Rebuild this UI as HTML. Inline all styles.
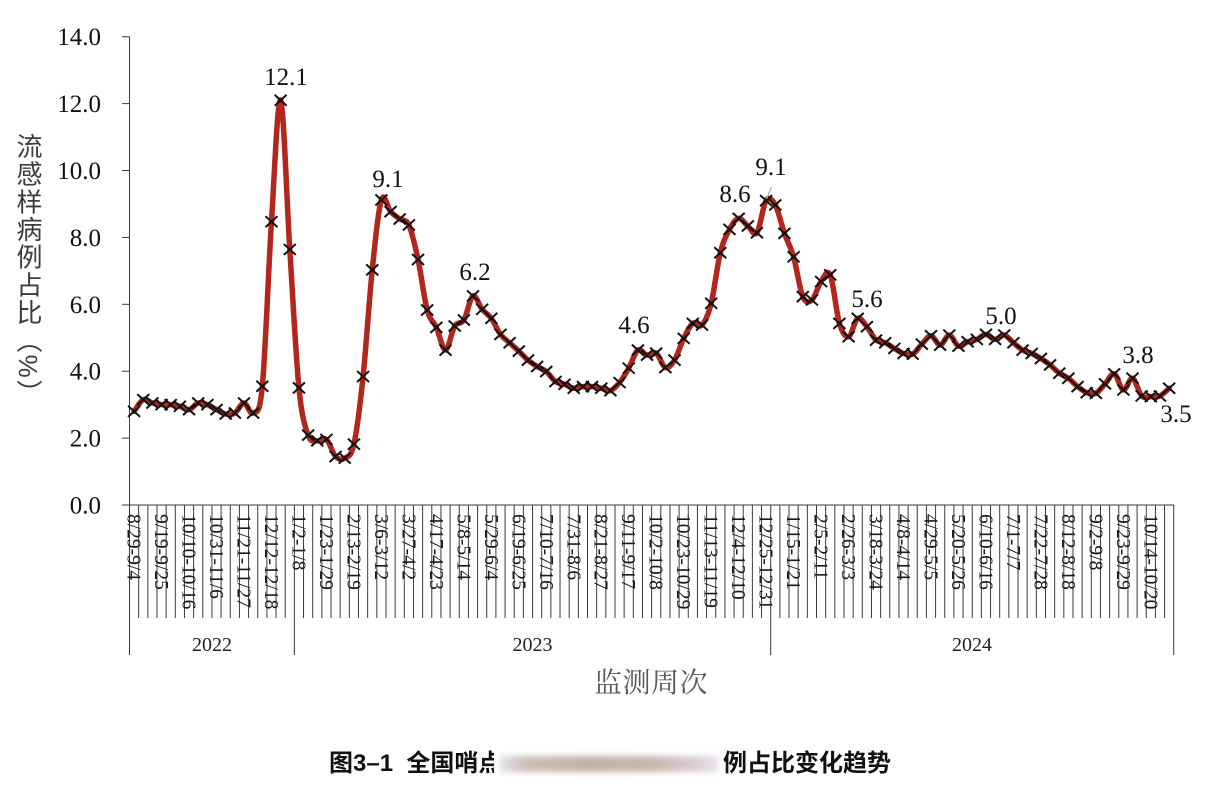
<!DOCTYPE html>
<html><head><meta charset="utf-8">
<style>
html,body{margin:0;padding:0;background:#fff;}
body{width:1227px;height:800px;position:relative;overflow:hidden;}
svg{position:absolute;left:0;top:0;}
.yt{position:absolute;left:14px;top:133px;writing-mode:vertical-rl;font-family:"Liberation Sans","Noto Sans CJK SC",sans-serif;font-size:26px;line-height:28px;color:#3c3c3c;letter-spacing:1.7px;}
.xt{position:absolute;left:594px;top:668px;font-family:"Liberation Serif","Noto Serif CJK SC",serif;font-size:28px;line-height:32px;color:#585858;letter-spacing:0.5px;}
.cap{position:absolute;top:749px;font-family:"Liberation Sans","Noto Sans CJK SC",sans-serif;font-weight:bold;font-size:24px;line-height:30px;color:#111;white-space:nowrap;}
.blurbox{position:absolute;left:494px;top:746px;width:230px;height:36px;background:#fff;overflow:hidden;}
.blurin{position:absolute;left:6px;top:10px;width:218px;height:16px;background:linear-gradient(90deg,#e6e2ee 0%,#cbbfb6 12%,#c2b3a6 40%,#c6b8ad 70%,#d9cdd6 90%,#e9e4ee 100%);filter:blur(3px);}
</style></head>
<body>
<svg id="chart" width="1227" height="800" viewBox="0 0 1227 800" xmlns="http://www.w3.org/2000/svg">
  <g stroke="#3a3a3a" stroke-width="1" fill="none" id="axes">
    <line x1="129.5" y1="36.7" x2="129.5" y2="655"/>
    <line x1="129.5" y1="505" x2="1174" y2="505"/>
    <line x1="122" y1="505" x2="129.5" y2="505"/>
    <line x1="122" y1="438.1" x2="129.5" y2="438.1"/>
    <line x1="122" y1="371.2" x2="129.5" y2="371.2"/>
    <line x1="122" y1="304.3" x2="129.5" y2="304.3"/>
    <line x1="122" y1="237.4" x2="129.5" y2="237.4"/>
    <line x1="122" y1="170.5" x2="129.5" y2="170.5"/>
    <line x1="122" y1="103.6" x2="129.5" y2="103.6"/>
    <line x1="122" y1="36.7" x2="129.5" y2="36.7"/>
  </g>
  <g font-family="Liberation Serif, serif" font-size="25" fill="#111" text-anchor="end">
    <text x="101" y="513.5">0.0</text>
    <text x="101" y="446.6">2.0</text>
    <text x="101" y="379.7">4.0</text>
    <text x="101" y="312.8">6.0</text>
    <text x="101" y="245.9">8.0</text>
    <text x="101" y="179">10.0</text>
    <text x="101" y="112.1">12.0</text>
    <text x="101" y="45.2">14.0</text>
  </g>
  <g font-family="Liberation Serif, serif" font-size="19.5" fill="#1a1a1a">
    <text transform="translate(134.1,514) rotate(90)" y="6.5">8/29-9/4</text>
    <text transform="translate(161.6,514) rotate(90)" y="6.5">9/19-9/25</text>
    <text transform="translate(189.0,514) rotate(90)" y="6.5">10/10-10/16</text>
    <text transform="translate(216.5,514) rotate(90)" y="6.5">10/31-11/6</text>
    <text transform="translate(244.0,514) rotate(90)" y="6.5">11/21-11/27</text>
    <text transform="translate(271.5,514) rotate(90)" y="6.5">12/12-12/18</text>
    <text transform="translate(299.0,514) rotate(90)" y="6.5">1/2-1/8</text>
    <text transform="translate(326.4,514) rotate(90)" y="6.5">1/23-1/29</text>
    <text transform="translate(353.9,514) rotate(90)" y="6.5">2/13-2/19</text>
    <text transform="translate(381.4,514) rotate(90)" y="6.5">3/6-3/12</text>
    <text transform="translate(408.9,514) rotate(90)" y="6.5">3/27-4/2</text>
    <text transform="translate(436.4,514) rotate(90)" y="6.5">4/17-4/23</text>
    <text transform="translate(463.8,514) rotate(90)" y="6.5">5/8-5/14</text>
    <text transform="translate(491.3,514) rotate(90)" y="6.5">5/29-6/4</text>
    <text transform="translate(518.8,514) rotate(90)" y="6.5">6/19-6/25</text>
    <text transform="translate(546.3,514) rotate(90)" y="6.5">7/10-7/16</text>
    <text transform="translate(573.8,514) rotate(90)" y="6.5">7/31-8/6</text>
    <text transform="translate(601.2,514) rotate(90)" y="6.5">8/21-8/27</text>
    <text transform="translate(628.7,514) rotate(90)" y="6.5">9/11-9/17</text>
    <text transform="translate(656.2,514) rotate(90)" y="6.5">10/2-10/8</text>
    <text transform="translate(683.7,514) rotate(90)" y="6.5">10/23-10/29</text>
    <text transform="translate(711.2,514) rotate(90)" y="6.5">11/13-11/19</text>
    <text transform="translate(738.6,514) rotate(90)" y="6.5">12/4-12/10</text>
    <text transform="translate(766.1,514) rotate(90)" y="6.5">12/25-12/31</text>
    <text transform="translate(793.6,514) rotate(90)" y="6.5">1/15-1/21</text>
    <text transform="translate(821.1,514) rotate(90)" y="6.5">2/5-2/11</text>
    <text transform="translate(848.6,514) rotate(90)" y="6.5">2/26-3/3</text>
    <text transform="translate(876.0,514) rotate(90)" y="6.5">3/18-3/24</text>
    <text transform="translate(903.5,514) rotate(90)" y="6.5">4/8-4/14</text>
    <text transform="translate(931.0,514) rotate(90)" y="6.5">4/29-5/5</text>
    <text transform="translate(958.5,514) rotate(90)" y="6.5">5/20-5/26</text>
    <text transform="translate(986.0,514) rotate(90)" y="6.5">6/10-6/16</text>
    <text transform="translate(1013.4,514) rotate(90)" y="6.5">7/1-7/7</text>
    <text transform="translate(1040.9,514) rotate(90)" y="6.5">7/22-7/28</text>
    <text transform="translate(1068.4,514) rotate(90)" y="6.5">8/12-8/18</text>
    <text transform="translate(1095.9,514) rotate(90)" y="6.5">9/2-9/8</text>
    <text transform="translate(1123.4,514) rotate(90)" y="6.5">9/23-9/29</text>
    <text transform="translate(1150.8,514) rotate(90)" y="6.5">10/14-10/20</text>
  </g>
  <g font-family="Liberation Serif, serif" font-size="20" fill="#222" text-anchor="middle">
    <text x="212" y="651">2022</text>
    <text x="532.5" y="651">2023</text>
    <text x="972" y="651">2024</text>
  </g>
  <g id="series"></g>
  <line x1="771.5" y1="187" x2="766.5" y2="199" stroke="#a8a8a8" stroke-width="1.2"/>
  <g font-family="Liberation Serif, serif" font-size="25" fill="#111" text-anchor="middle">
    <text x="286" y="85">12.1</text>
    <text x="388" y="187">9.1</text>
    <text x="475" y="280">6.2</text>
    <text x="634" y="333">4.6</text>
    <text x="735" y="202">8.6</text>
    <text x="771" y="175">9.1</text>
    <text x="867" y="307">5.6</text>
    <text x="1001" y="324">5.0</text>
    <text x="1138" y="363">3.8</text>
    <text x="1176" y="422">3.5</text>
  </g>
</svg>
<div class="yt">流感样病例占比（%）</div>
<div class="xt">监测周次</div>
<div class="cap" style="left:329px;">图3–1&nbsp;&nbsp;全国哨点</div>
<div class="blurbox"><div class="blurin"></div></div>
<div class="cap" style="left:723px;">例占比变化趋势</div>
<script>
(function(){
  var NS="http://www.w3.org/2000/svg";
  var svg=document.getElementById("chart");
  var axes=document.getElementById("axes");
  var x0=129.5, w=9.16, N=114;
  // category tick lines
  for(var k=1;k<=N;k++){
    var xx=x0+w*k;
    var big=(k==18||k==70||k==N);
    var l=document.createElementNS(NS,"line");
    l.setAttribute("x1",xx);l.setAttribute("x2",xx);
    l.setAttribute("y1",505);l.setAttribute("y2",big?655:618);
    axes.appendChild(l);
  }
  var d=[2.8,3.15,3.05,3.0,3.0,2.95,2.85,3.05,3.0,2.85,2.72,2.75,3.05,2.75,3.55,8.47,12.1,7.64,3.5,2.09,
  1.92,1.96,1.45,1.4,1.82,3.84,7.03,9.12,8.77,8.55,8.37,7.34,5.83,5.31,4.63,5.35,5.53,6.25,5.85,5.58,
  5.10,4.85,4.60,4.33,4.14,3.99,3.69,3.61,3.49,3.54,3.54,3.49,3.42,3.66,4.09,4.63,4.48,4.54,4.11,4.33,
  4.98,5.43,5.38,6.03,7.54,8.24,8.57,8.34,8.14,9.10,8.97,8.12,7.42,6.23,6.13,6.68,6.88,5.43,5.03,5.58,
  5.33,4.93,4.85,4.68,4.53,4.51,4.81,5.06,4.78,5.08,4.75,4.88,4.95,5.10,4.95,5.08,4.85,4.63,4.53,4.38,
  4.19,3.94,3.79,3.54,3.36,3.34,3.62,3.92,3.44,3.79,3.26,3.24,3.26,3.49];
  var P=[];
  for(var i=0;i<d.length;i++){P.push([x0+w*(i+0.5),505-33.45*d[i]]);}
  var s="M"+P[0][0].toFixed(2)+","+P[0][1].toFixed(2);
  for(var i=0;i<P.length-1;i++){
    var p0=P[i>0?i-1:0],p1=P[i],p2=P[i+1],p3=P[i+2<P.length?i+2:P.length-1];
    var c1x=p1[0]+(p2[0]-p0[0])/6,c1y=p1[1]+(p2[1]-p0[1])/6;
    var c2x=p2[0]-(p3[0]-p1[0])/6,c2y=p2[1]-(p3[1]-p1[1])/6;
    s+=" C"+c1x.toFixed(2)+","+c1y.toFixed(2)+" "+c2x.toFixed(2)+","+c2y.toFixed(2)+" "+p2[0].toFixed(2)+","+p2[1].toFixed(2);
  }
  var g=document.getElementById("series");
  var path=document.createElementNS(NS,"path");
  path.setAttribute("d",s);path.setAttribute("fill","none");
  path.setAttribute("stroke","#b3261d");path.setAttribute("stroke-width","5.5");
  path.setAttribute("stroke-linejoin","round");path.setAttribute("stroke-linecap","round");
  g.appendChild(path);
  var m="";
  for(var i=0;i<P.length;i++){
    var x=P[i][0],y=P[i][1];
    m+="M"+(x-6).toFixed(2)+","+(y-5.5).toFixed(2)+"L"+(x+6).toFixed(2)+","+(y+5.5).toFixed(2);
    m+="M"+(x-6).toFixed(2)+","+(y+5.5).toFixed(2)+"L"+(x+6).toFixed(2)+","+(y-5.5).toFixed(2);
  }
  var mk=document.createElementNS(NS,"path");
  mk.setAttribute("d",m);mk.setAttribute("stroke","#111");mk.setAttribute("stroke-width","2");mk.setAttribute("fill","none");
  g.appendChild(mk);
})();
</script>
</body></html>
